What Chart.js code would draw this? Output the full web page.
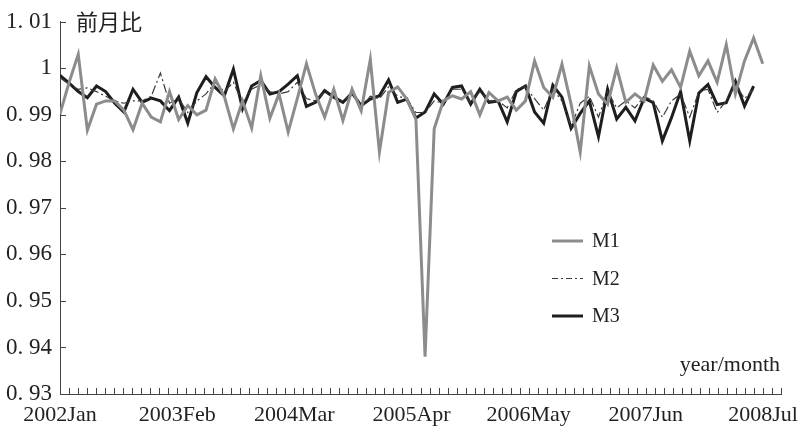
<!DOCTYPE html>
<html>
<head>
<meta charset="utf-8">
<script src="https://cdn.jsdelivr.net/npm/chart.js@4.4.1/dist/chart.umd.min.js"></script>
<style>
  html, body { margin: 0; padding: 0; background: #fff; }
  #wrap { width: 806px; height: 437px; }
</style>
</head>
<body>
<div id="wrap"><canvas id="chart"></canvas></div>
<script>
// x axis labels, one every 13 months
const tickLabels = ['2002Jan', '2003Feb', '2004Mar', '2005Apr', '2006May', '2007Jun', '2008Jul'];
const seriesNames = ['M1', 'M2', 'M3'];

// 前月比 (month-on-month ratio)
const m1 = [
  0.9902, 0.9970, 1.0030, 0.9867, 0.9923, 0.9930, 0.9930, 0.9910, 0.9868, 0.9925,
  0.9895, 0.9885, 0.9950, 0.9890, 0.9920, 0.9900, 0.9910, 0.9977, 0.9940, 0.9870,
  0.9930, 0.9872, 0.9984, 0.9893, 0.9945, 0.9863, 0.9935, 1.0010, 0.9945, 0.9895,
  0.9955, 0.9888, 0.9955, 0.9909, 1.0019, 0.9820, 0.9948, 0.9960, 0.9934, 0.9890,
  0.9380, 0.9870, 0.9930, 0.9941, 0.9934, 0.9950, 0.9900, 0.9948, 0.9930, 0.9938,
  0.9910, 0.9930, 1.0016, 0.9959, 0.9938, 1.0009, 0.9923, 0.9820, 1.0005, 0.9945,
  0.9923, 1.0001, 0.9927, 0.9945, 0.9930, 1.0007, 0.9972, 0.9997, 0.9959, 1.0037,
  0.9984, 1.0016, 0.9970, 1.0051, 0.9945, 1.0016, 1.0065, 1.0010
];
const m2 = [
  0.9980, 0.9965, 0.9955, 0.9958, 0.9950, 0.9940, 0.9930, 0.9925, 0.9930, 0.9930,
  0.9940, 0.9990, 0.9925, 0.9935, 0.9905, 0.9930, 0.9945, 0.9970, 0.9950, 0.9970,
  0.9925, 0.9955, 0.9965, 0.9950, 0.9945, 0.9950, 0.9970, 0.9935, 0.9930, 0.9950,
  0.9935, 0.9930, 0.9945, 0.9915, 0.9940, 0.9935, 0.9960, 0.9940, 0.9935, 0.9905,
  0.9905, 0.9930, 0.9925, 0.9955, 0.9955, 0.9925, 0.9950, 0.9930, 0.9930, 0.9915,
  0.9955, 0.9960, 0.9935, 0.9910, 0.9955, 0.9930, 0.9875, 0.9925, 0.9940, 0.9895,
  0.9950, 0.9915, 0.9930, 0.9915, 0.9940, 0.9930, 0.9895, 0.9930, 0.9945, 0.9895,
  0.9950, 0.9955, 0.9905, 0.9930, 0.9965, 0.9935, 0.9955
];
const m3 = [
  0.9985, 0.9968, 0.9950, 0.9937, 0.9962, 0.9950, 0.9925, 0.9906, 0.9955, 0.9927,
  0.9936, 0.9930, 0.9909, 0.9938, 0.9882, 0.9948, 0.9982, 0.9959, 0.9941, 0.9998,
  0.9913, 0.9962, 0.9974, 0.9945, 0.9950, 0.9966, 0.9984, 0.9918, 0.9927, 0.9952,
  0.9938, 0.9927, 0.9947, 0.9920, 0.9934, 0.9941, 0.9975, 0.9927, 0.9934, 0.9893,
  0.9906, 0.9945, 0.9923, 0.9959, 0.9962, 0.9923, 0.9955, 0.9927, 0.9930, 0.9885,
  0.9950, 0.9962, 0.9906, 0.9882, 0.9964, 0.9938, 0.9871, 0.9903, 0.9930, 0.9853,
  0.9955, 0.9891, 0.9916, 0.9887, 0.9936, 0.9926, 0.9844, 0.9894, 0.9950, 0.9844,
  0.9947, 0.9965, 0.9922, 0.9926, 0.9972, 0.9919, 0.9962
];

const serif = "'Liberation Serif', 'DejaVu Serif', serif";
const axisColor = '#444';
const textColor = '#222';

const styles = [
  { color: '#8c8c8c', width: 3, dash: [] },
  { color: '#3a3a3a', width: 1.2, dash: [9, 3, 2, 3] },
  { color: '#1e1e1e', width: 3, dash: [] }
];

const toPoints = arr => arr.map((v, i) => ({ x: i, y: v }));

// inward tick marks, axis captions and the legend inside the plot
const decor = {
  id: 'decor',
  afterDraw(chart) {
    const { ctx, chartArea: a, scales } = chart;
    const xt = scales.xt, y = scales.y;
    ctx.save();
    ctx.strokeStyle = axisColor;
    ctx.lineWidth = 1;
    ctx.beginPath();
    xt.ticks.forEach(t => {
      if (t.value === 0) return;
      const px = Math.round(xt.getPixelForValue(t.value)) + 0.5;
      ctx.moveTo(px, a.bottom);
      ctx.lineTo(px, a.bottom - 6);
    });
    y.ticks.forEach(t => {
      const py = Math.round(y.getPixelForValue(t.value)) + 0.5;
      ctx.moveTo(a.left, py);
      ctx.lineTo(a.left + 6, py);
    });
    ctx.stroke();

    ctx.fillStyle = textColor;
    ctx.textBaseline = 'middle';
    ctx.font = "22px 'Noto Sans CJK JP', sans-serif";
    ctx.textAlign = 'left';
    ctx.fillText('前月比', a.left + 16, a.top);

    ctx.font = '22px ' + serif;
    ctx.textAlign = 'right';
    ctx.fillText('year/month', a.right - 1, a.bottom - 29);

    // legend
    ctx.font = '20px ' + serif;
    ctx.textAlign = 'left';
    chart.data.datasets.forEach((ds, i) => {
      const st = styles[i];
      const ly = 241 + i * 37.5;
      ctx.strokeStyle = st.color;
      ctx.lineWidth = st.width;
      ctx.setLineDash(st.dash.length ? [6, 3, 2, 3] : []);
      ctx.beginPath();
      ctx.moveTo(552, ly);
      ctx.lineTo(583, ly);
      ctx.stroke();
      ctx.setLineDash([]);
      ctx.fillText(ds.label, 592, ly + 1);
    });
    ctx.restore();
  }
};

new Chart(document.getElementById('chart'), {
  type: 'line',
  data: {
    datasets: [m1, m2, m3].map((arr, i) => ({
      label: seriesNames[i],
      data: toPoints(arr),
      borderColor: styles[i].color,
      borderWidth: styles[i].width,
      borderDash: styles[i].dash,
      pointRadius: 0,
      tension: 0,
      fill: false,
      xAxisID: 'x'
    }))
  },
  options: {
    responsive: true,
    maintainAspectRatio: false,
    animation: false,
    layout: { padding: { top: 18, right: 25, left: 0, bottom: 0 } },
    plugins: {
      legend: { display: false },
      tooltip: { enabled: false }
    },
    scales: {
      // data axis: one unit per observation
      x: {
        type: 'linear',
        min: 0,
        max: 79,
        display: false
      },
      // month axis with the tick marks and labels
      xt: {
        type: 'linear',
        position: 'bottom',
        min: 0,
        max: 80,
        afterFit: s => { s.height = 43; },
        grid: { display: false, drawTicks: false },
        border: { display: true, color: axisColor, width: 1 },
        ticks: {
          stepSize: 1,
          autoSkip: false,
          maxRotation: 0,
          minRotation: 0,
          padding: 8,
          color: textColor,
          font: { family: serif, size: 22 },
          callback: v => (v % 13 === 0 && v / 13 < tickLabels.length) ? tickLabels[v / 13] : ''
        }
      },
      y: {
        min: 0.93,
        max: 1.01,
        afterFit: s => { s.width = 60; },
        grid: { display: false, drawTicks: false },
        border: { display: true, color: axisColor, width: 1 },
        ticks: {
          stepSize: 0.01,
          padding: 8,
          color: textColor,
          font: { family: serif, size: 23 },
          callback: v => Math.abs(v - 1) < 1e-9 ? '1' : v.toFixed(2).replace('.', '. ')
        }
      }
    }
  },
  plugins: [decor]
});
</script>
</body>
</html>
